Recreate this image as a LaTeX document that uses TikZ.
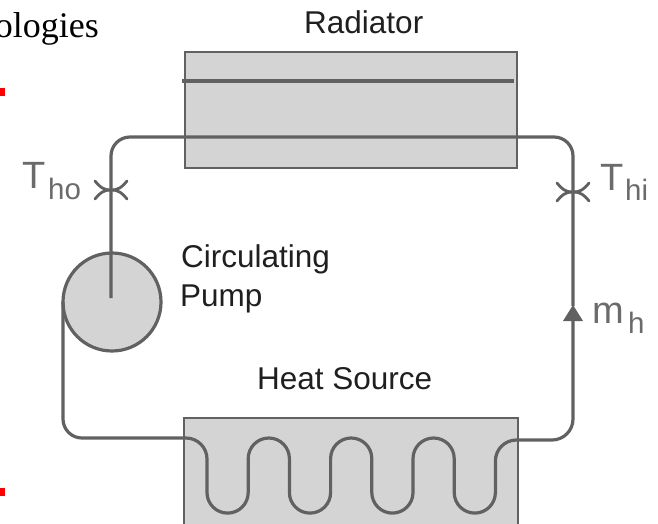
\documentclass[tikz,border=0pt]{standalone}
\usepackage{fontspec}
\setmainfont{Liberation Sans}
\newfontfamily\serifface{Liberation Serif}
\definecolor{boxfill}{gray}{0.83}
\definecolor{pipecol}{gray}{0.38}
\definecolor{labgray}{gray}{0.42}
\tikzset{
  unitbox/.style={draw=pipecol,fill=boxfill,line width=1.6pt,inner sep=0pt,outer sep=0pt},
  pipe/.style={draw=pipecol,line width=3.2pt,line join=round},
  probe/.style={draw=pipecol,line width=2.8pt,line cap=round},
  lab/.style={inner sep=0pt,text=black!88,font=\fontsize{31.5}{36}\selectfont,anchor=base west},
  graylab/.style={inner sep=0pt,text=labgray,anchor=base west},
  bigsym/.style={graylab,font=\fontsize{38}{40}\selectfont},
  subsym/.style={graylab,font=\fontsize{29.5}{32}\selectfont},
  redmark/.style={fill=red,draw=none},
}
\newcommand{\probeat}[1]{%
  \draw[probe] (#1)+(-16,-9) .. controls +(5,6) and +(-8,0) .. (#1);
  \draw[probe] (#1)+(-16,9) .. controls +(5,-6) and +(-8,0) .. (#1);
  \draw[probe] (#1)+(16,-9) .. controls +(-5,6) and +(8,0) .. (#1);
  \draw[probe] (#1)+(16,9) .. controls +(-5,-6) and +(8,0) .. (#1);
}
\begin{document}
\begin{tikzpicture}[x=1pt,y=-1pt]
\useasboundingbox (0,0) rectangle (658,523);
\clip (0,0) rectangle (658,523);
% page fragments
\node[inner sep=0pt,anchor=base east,font=\serifface\fontsize{36}{40}\selectfont] (title) at (99,37) {ologies};
\fill[redmark] (0,88) rectangle (4.7,96);
\fill[redmark] (0,488) rectangle (4.7,496);
% units
\node[unitbox,minimum width=332pt,minimum height=116pt] (radiator) at (351,110) {};
\node[unitbox,minimum width=334pt,minimum height=110pt] (source) at (351,473) {};
\node[unitbox,circle,minimum size=98pt,line width=3.2pt] (pump) at (112,302) {};
% radiator bar
\coordinate (barL) at (182,81);
\coordinate (barR) at (514,81);
\draw[draw=pipecol,line width=3.8pt] (barL) -- (barR);
% upper pipe, ends inside the pump
\coordinate (pumpin) at (111,298);
\draw[pipe] (pumpin) -- (111,156) arc[start angle=180,end angle=270,radius=19] -- (554,137)
  arc[start angle=-90,end angle=0,radius=19] -- (573,306);
% lower pipe with serpentine
\draw[pipe] (pump.west) -- (63,419) arc[start angle=180,end angle=90,radius=19] -- (186,438)
  arc[start angle=-90,end angle=0,radius=21] -- (207,492.5)
  arc[start angle=180,end angle=0,radius=20.6] -- (248.2,458.6)
  arc[start angle=180,end angle=360,radius=20.6] -- (289.4,492.5)
  arc[start angle=180,end angle=0,radius=20.6] -- (330.6,458.6)
  arc[start angle=180,end angle=360,radius=20.6] -- (371.8,492.5)
  arc[start angle=180,end angle=0,radius=20.6] -- (413,458.6)
  arc[start angle=180,end angle=360,radius=20.6] -- (454.2,492.5)
  arc[start angle=180,end angle=0,radius=20.6] -- (495.4,461)
  arc[start angle=180,end angle=270,radius=21] -- (552,440)
  arc[start angle=90,end angle=0,radius=21] -- (573,320);
% flow arrow
\coordinate (arrowtip) at (573,305);
\fill[pipecol] (arrowtip) -- (583,321) -- (563,321) -- cycle;
% temperature probes
\coordinate (tho) at (111,190);
\coordinate (thi) at (573,192);
\probeat{tho}
\probeat{thi}
% labels
\node[lab] (lradiator) at (304,33) {Radiator};
\node[lab] (lpump1) at (181,267) {Circulating};
\node[lab] (lpump2) at (180,306) {Pump};
\node[lab] (lsource) at (257,389) {Heat Source};
\node[bigsym] (lt1) at (22,188) {T};
\node[subsym] (lt1s) at (48,199) {ho};
\node[bigsym] (lt2) at (600,190) {T};
\node[subsym] (lt2s) at (625,200) {hi};
\node[bigsym] (lm) at (592,323) {m};
\node[subsym] (lms) at (628,333) {h};
\end{tikzpicture}
\end{document}
